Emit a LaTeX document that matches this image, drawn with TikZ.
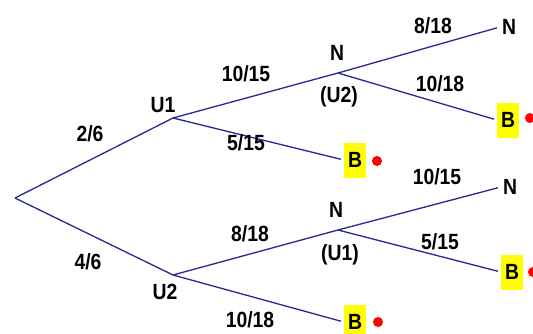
\documentclass[tikz,border=0pt]{standalone}
\usepackage{fontspec}
\setmainfont[FakeStretch=0.88]{Liberation Sans}
\definecolor{branch}{RGB}{40,40,145}
\definecolor{boxyellow}{RGB}{255,255,0}
\tikzset{
  lbl/.style={font=\bfseries\fontsize{22}{22}\selectfont, inner sep=0pt},
  bbox/.style={font=\bfseries\fontsize{22}{22}\selectfont, fill=boxyellow, inner sep=0pt, minimum width=22pt, minimum height=35pt},
  nend/.style={font=\bfseries\fontsize{22}{22}\selectfont, inner sep=2pt},
  branchline/.style={draw=branch, line width=1.3pt},
  dot/.style={circle, fill=red, inner sep=0pt, minimum size=10pt}
}
\begin{document}
\begin{tikzpicture}[x=1pt,y=-1pt]
\useasboundingbox[fill=white] (0,0) rectangle (533,333);
% junctions
\coordinate (root) at (15,198);
\coordinate (u1) at (173,118);
\coordinate (u2) at (173,275);
\coordinate (n1) at (338,73);
\coordinate (n2) at (338,230);
% end nodes
\node[nend] (nA) at (509,27) {N};
\node[bbox] (bA) at (508,120) {B};
\node[dot] (dA) at (530,118) {};
\node[bbox] (bB) at (355,160) {B};
\node[dot] (dB) at (377,161) {};
\node[nend] (nC) at (510,187) {N};
\node[bbox] (bC) at (512,272) {B};
\node[dot] (dC) at (533,272) {};
\node[bbox] (bD) at (355,322) {B};
\node[dot] (dD) at (378,322) {};
% branches
\draw[branchline] (root) -- (u1);
\draw[branchline] (root) -- (u2);
\draw[branchline] (u1) -- (n1);
\draw[branchline, shorten >=3pt] (u1) -- (bB.west);
\draw[branchline, shorten >=3pt] (n1) -- (nA.west);
\draw[branchline, shorten >=3pt] (n1) -- (bA.west);
\draw[branchline] (u2) -- (n2);
\draw[branchline, shorten >=3pt] (u2) -- (bD.west);
\draw[branchline, shorten >=3pt] (n2) -- (nC.west);
\draw[branchline, shorten >=3pt] (n2) -- (bC.west);
% labels
\node[lbl] (l26) at (90,134) {2/6};
\node[lbl] (l46) at (88,262) {4/6};
\node[lbl] (lu1) at (163,105) {U1};
\node[lbl] (lu2) at (165,292) {U2};
\node[lbl] (l1015a) at (246,74) {10/15};
\node[lbl] (l515a) at (246,143) {5/15};
\node[lbl] (ln1) at (337,53) {N};
\node[lbl] (lu2b) at (339,97) {(U2)};
\node[lbl] (l818a) at (433,26) {8/18};
\node[lbl] (l1018a) at (440,84) {10/18};
\node[lbl] (l818b) at (250,234) {8/18};
\node[lbl] (l1018b) at (250,320) {10/18};
\node[lbl] (ln2) at (336,210) {N};
\node[lbl] (lu1b) at (340,255) {(U1)};
\node[lbl] (l1015b) at (437,177) {10/15};
\node[lbl] (l515b) at (440,242) {5/15};
\end{tikzpicture}
\end{document}
